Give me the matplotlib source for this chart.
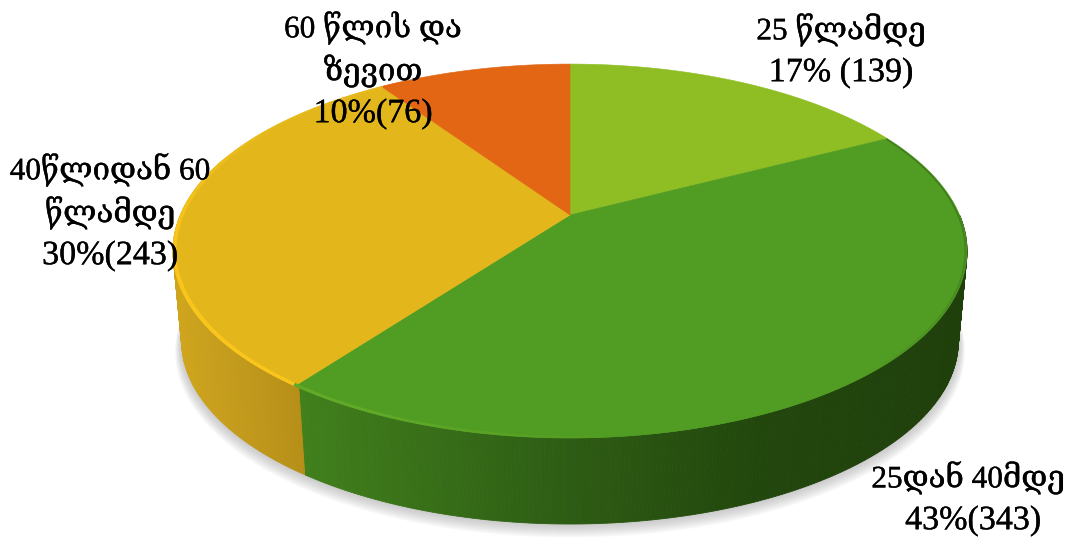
import numpy as np
import matplotlib
matplotlib.use('Agg')
import matplotlib.pyplot as plt
import matplotlib.patheffects as pe
from matplotlib.colors import to_rgb
from matplotlib.collections import LineCollection

# clockwise from 12 o'clock
counts = [139, 343, 243, 76]
percents = [17, 43, 30, 10]
names = [['25 წლამდე'], ['25დან 40მდე'], ['40წლიდან 60', 'წლამდე'], ['60 წლის და', 'ზევით']]
top_colors = ['#8fbe24', '#519c22', '#e3b71b', '#e36614']
rim_colors = ['#8fbe24', '#62aa28', '#fcc71d', '#e36614']

cx, cy, cy_low = 570, 215, 306
a, b, k = 389.6, 180, 0.1925
low_scale = 0.978


def project(theta, scale=1.0, yc=cy):
    x, y = np.sin(theta), np.cos(theta)
    w = 1 + k * y
    return cx + scale * a * x / w, yc - scale * b * y / w


def mix(c1, c2, t):
    c1, c2 = np.array(to_rgb(c1)), np.array(to_rgb(c2))
    return tuple(c1 + (c2 - c1) * np.clip(t, 0, 1))


def wall_color(x):
    # shading of the side wall goes with the horizontal position
    if x < 298:
        return mix('#cfa51e', '#b68f18', (x - 175) / 125)
    if x < 560:
        return mix('#41801c', '#2e5d14', (x - 298) / 262)
    if x < 760:
        return mix('#2e5d14', '#22470d', (x - 560) / 200)
    return mix('#22470d', '#1f3f0b', (x - 760) / 200)


fig = plt.figure(figsize=(10.8, 5.39), dpi=100)
ax = fig.add_axes([0, 0, 1, 1])
ax.set_xlim(0, 1080)
ax.set_ylim(539, 0)
ax.axis('off')

edges = np.cumsum([0] + counts) / sum(counts) * 2 * np.pi

# soft shadow under the disc
ring = np.linspace(0, 2 * np.pi, 360)
for i in range(14, 0, -1):
    sx, sy = project(ring, low_scale + i * 0.0012, cy_low + i * 0.7)
    ax.fill(sx, sy, color='#888888', alpha=0.035, lw=0, zorder=1)

# side wall, in thin strips
steps = np.radians(np.arange(90, 290, 0.5))
for t0, t1 in zip(steps[:-1], steps[1:]):
    x0, y0 = project(t0)
    x1, y1 = project(t1)
    x2, y2 = project(t1, low_scale, cy_low)
    x3, y3 = project(t0, low_scale, cy_low)
    c = wall_color((x0 + x1) / 2)
    ax.fill([x0, x1, x2, x3], [y0, y1, y2, y3], color=c, lw=0.6, zorder=2)

# top face
for i in range(len(counts)):
    th = np.linspace(edges[i], edges[i + 1], 200)
    px, py = project(th)
    ax.fill(np.r_[cx, px], np.r_[cy, py], color=top_colors[i], lw=0.4, zorder=3)

# rim highlight / dark edge
rim_deg = np.arange(60, 330, 0.5)
rim_rad = np.radians(rim_deg)
rx, ry = project(rim_rad, 0.996)
pts = np.column_stack([rx, ry])
segs = np.stack([pts[:-1], pts[1:]], axis=1)
seg_cols = []
seg_w = []
for d, t in zip(rim_deg[:-1], rim_rad[:-1]):
    i = np.searchsorted(edges, t) - 1
    base = top_colors[i]
    if i == 1:
        if d > 175:
            seg_cols.append(mix(base, rim_colors[1], (d - 175) / 30))
        else:
            seg_cols.append(mix(base, '#3f7a1c', (140 - d) / 50))
    else:
        seg_cols.append(mix(base, rim_colors[i], np.interp(d, [216, 260, 300], [1, 1, 0.2])))
    seg_w.append(np.interp(d, [60, 150, 200, 240, 280, 320], [1, 1.5, 2, 3, 2.5, 1]))
ax.add_collection(LineCollection(segs, colors=seg_cols, linewidths=seg_w, zorder=4))

# labels, one text per line
serif = ['Liberation Serif', 'DejaVu Serif']
label_x = [841, 968, 110, 373]
label_top = [30, 478, 170, 28]
pitch = 43
stroke = [pe.withStroke(linewidth=0.25, foreground='black')]
for i in range(len(counts)):
    y = label_top[i]
    for line in names[i]:
        ax.text(label_x[i], y, line, family=serif, fontsize=22.5, ha='center', va='center',
                color='black', zorder=6, path_effects=stroke)
        y += pitch
    gap = ' ' if i == 0 else ''
    ax.text(label_x[i] + (5 if i == 1 else 0), y, f'{percents[i]}%{gap}({counts[i]})', family=serif,
            fontsize=24.5, ha='center', va='center', color='black', zorder=6, path_effects=stroke)

fig.savefig('out.png', dpi=100, facecolor='white')
